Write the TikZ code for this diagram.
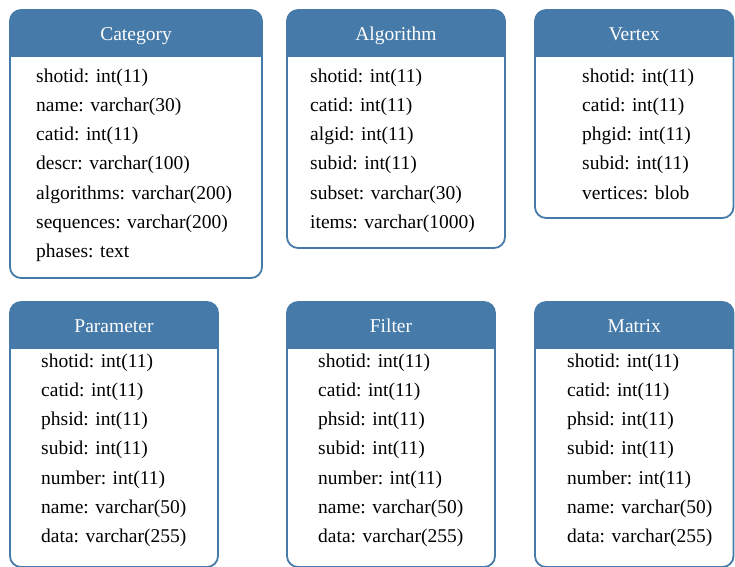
\documentclass[tikz,border=0pt]{standalone}
\usepackage{fontspec}
\setmainfont{Liberation Serif}
\usetikzlibrary{positioning}
\definecolor{hdrblue}{RGB}{70,122,168}

\tikzset{
	tblbox/.style = {draw = hdrblue, line width = 1.8pt, rounded corners = 11pt},
	tbltitle/.style = {text = white, text height = 13.5pt, text depth = 4.2pt,
		font = \fontsize{19.5}{22}\selectfont},
	tblfield/.style = {anchor = west, inner sep = 0pt, text height = 14pt, text depth = 4.5pt,
		font = \fontsize{19.5}{22}\selectfont}
}

% name, left, top, right, bottom, text x, first row y, title, fields
\newcommand{\dbtable}[9]{%
	\begin{scope}
		\clip[rounded corners = 11pt] (#2, #3) rectangle (#4, #5);
		\fill[hdrblue] (#2, #3) rectangle (#4, #3+47);
	\end{scope}
	\draw[tblbox] (#2, #3) rectangle (#4, #5);
	\node[tbltitle] (#1-title) at ({(#2+#4)/2}, #3+26) {#8};
	\foreach \fld [count = \k] in {#9} {
		\node[tblfield] (#1-\k) at (#6, {#7+2.5+(\k-1)*29.2}) {\fld};
	}
}

\begin{document}
\begin{tikzpicture}[x = 1pt, y = -1pt]
				\useasboundingbox (0, 0) rectangle (735, 566);
				% top row
				\dbtable{cat}{10}{10}{262}{278}{36}{75}{Category}
					{shotid: int(11), name: varchar(30), catid: int(11), descr: varchar(100),
					 algorithms: varchar(200), sequences: varchar(200), phases: text}
				\dbtable{alg}{287}{10}{505}{248}{310}{75}{Algorithm}
					{shotid: int(11), catid: int(11), algid: int(11), subid: int(11),
					 subset: varchar(30), items: varchar(1000)}
				\dbtable{vtx}{535}{10}{733.5}{218}{582}{75}{Vertex}
					{shotid: int(11), catid: int(11), phgid: int(11), subid: int(11),
					 vertices: blob}
				% bottom row
				\dbtable{par}{10}{302}{218}{567}{41}{360}{Parameter}
					{shotid: int(11), catid: int(11), phsid: int(11), subid: int(11),
					 number: int(11), name: varchar(50), data: varchar(255)}
				\dbtable{flt}{287}{302}{495}{567}{318}{360}{Filter}
					{shotid: int(11), catid: int(11), phsid: int(11), subid: int(11),
					 number: int(11), name: varchar(50), data: varchar(255)}
				\dbtable{mtx}{535}{302}{733.5}{567}{567}{360}{Matrix}
					{shotid: int(11), catid: int(11), phsid: int(11), subid: int(11),
					 number: int(11), name: varchar(50), data: varchar(255)}
			\end{tikzpicture}
\end{document}
